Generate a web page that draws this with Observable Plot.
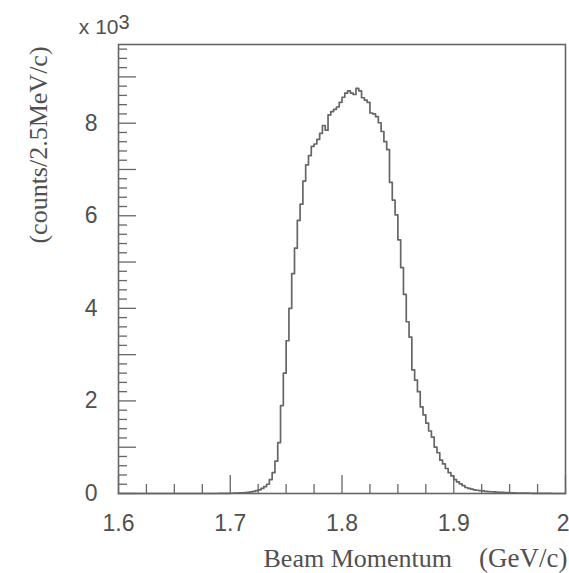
<!DOCTYPE html>
<html><head><meta charset="utf-8">
<script src="https://cdn.jsdelivr.net/npm/d3@7"></script>
<script src="https://cdn.jsdelivr.net/npm/@observablehq/plot@0.6"></script>
<style>body{margin:0;background:#fff}</style>
</head><body><div id="chart"></div>
<script>
// Histogram: beam momentum, 2.5 MeV/c bins from 1.6 to 2.0 GeV/c
const binStart = 1.6;
const binWidth = 0.0025;
const counts = [
  0,0,0,0,0,0,0,0,0,0,
  0,0,0,0,0,0,0,0,0,0,
  0,0,0,0,0,0,0,0,0,0,
  0,0,0,0,0,0,1,2,3,4,
  5,8,10,12,15,20,25,35,45,60,
  80,110,150,200,300,450,700,1100,1900,2600,
  3300,4000,4750,5300,5900,6250,6750,7100,7300,7500,
  7550,7650,7780,7950,7850,8180,8250,8300,8350,8450,
  8560,8650,8700,8650,8620,8750,8700,8550,8500,8450,
  8220,8200,8140,8010,7820,7600,7430,6720,6340,6020,
  5480,4880,4300,3710,3380,2670,2450,2200,1870,1700,
  1520,1350,1220,1000,880,720,640,540,450,380,
  300,250,210,170,130,110,95,80,70,60,
  55,48,42,38,34,30,27,24,20,18,
  15,13,11,9,8,7,6,5,4,3,
  2,2,1,1,1,0,0,0,0,0
];
const xDomain = [1.6, 2.0];
const yDomain = [0, 9700];
const xMajorTicks = [1.6, 1.7, 1.8, 1.9, 2.0];
const xTickLabels = ["1.6", "1.7", "1.8", "1.9", "2"];
const xMinorTicks = [1.625, 1.65, 1.675, 1.725, 1.75, 1.775, 1.825, 1.85, 1.875, 1.925, 1.95, 1.975];
const yMajorTicks = [0, 1000, 2000, 3000, 4000, 5000, 6000, 7000, 8000, 9000];
const yMinorTicks = d3.range(200, 9700, 200).filter(v => v % 1000 !== 0);
const yLabelTicks = [0, 2000, 4000, 6000, 8000];
const yTickLabels = ["0", "2", "4", "6", "8"];
const xTitleMain = "Beam Momentum";
const xTitleUnit = "(GeV/c)";
const yTitle = "(counts/2.5MeV/c)";
const scaleText = "x 10";
const scaleExp = "3";

const lineData = counts.map((c, i) => ({x: binStart + i * binWidth, y: c}));
lineData.push({x: binStart + counts.length * binWidth, y: counts[counts.length - 1]});

const ink = "#666";
const textInk = "#505050";
const sans = "Liberation Sans, Arial, sans-serif";
const serif = "Liberation Serif, Times New Roman, serif";
const fmtX = d => xTickLabels[xMajorTicks.indexOf(d)];

const chart = Plot.plot({
  width: 569,
  height: 573,
  marginTop: 44,
  marginRight: 4,
  marginBottom: 80,
  marginLeft: 118,
  x: {domain: xDomain, axis: null},
  y: {domain: yDomain, axis: null},
  style: {background: "#fff", fontFamily: sans},
  marks: [
    Plot.axisX(xMajorTicks, {tickSize: -18, tickFormat: () => "", stroke: ink, strokeWidth: 1.3, label: null}),
    Plot.axisX(xMinorTicks, {tickSize: -9, tickFormat: () => "", stroke: ink, strokeWidth: 1.3, label: null}),
    Plot.axisY(yMajorTicks, {tickSize: -18, tickFormat: () => "", stroke: ink, strokeWidth: 1.3, label: null}),
    Plot.axisY(yMinorTicks, {tickSize: -9, tickFormat: () => "", stroke: ink, strokeWidth: 1.3, label: null}),
    Plot.axisX(xMajorTicks.slice(0, 4), {tickSize: 0, tickPadding: 21, tickFormat: fmtX, fontSize: 23, fontFamily: sans, fill: textInk, label: null}),
    Plot.axisX(xMajorTicks.slice(4), {tickSize: 0, tickPadding: 21, tickFormat: fmtX, textAnchor: "end", dx: 4, fontSize: 23, fontFamily: sans, fill: textInk, label: null}),
    Plot.axisY(yLabelTicks, {tickSize: 0, tickPadding: 21, tickFormat: d => yTickLabels[yLabelTicks.indexOf(d)], fontSize: 23, fontFamily: sans, fill: textInk, label: null}),
    Plot.lineY(lineData, {x: "x", y: "y", curve: "step-after", stroke: ink, strokeWidth: 1.7}),
    Plot.frame({stroke: ink, strokeWidth: 1.6}),
    Plot.text([scaleText], {frameAnchor: "top-left", textAnchor: "end", lineAnchor: "bottom", dx: 0, dy: -11, fontSize: 21, fontFamily: sans, fill: textInk}),
    Plot.text([scaleExp], {frameAnchor: "top-left", textAnchor: "start", lineAnchor: "bottom", dx: 0, dy: -16, fontSize: 20, fontFamily: sans, fill: textInk}),
    Plot.text([yTitle], {frameAnchor: "left", rotate: -90, textAnchor: "middle", lineAnchor: "bottom", dx: -72, dy: -124, fontSize: 26, fontFamily: serif, fill: textInk}),
    Plot.text([xTitleMain], {frameAnchor: "bottom-left", textAnchor: "start", lineAnchor: "bottom", dx: 145, dy: 73, fontSize: 26, fontFamily: serif, fill: textInk}),
    Plot.text([xTitleUnit], {frameAnchor: "bottom-right", textAnchor: "end", lineAnchor: "bottom", dx: 2, dy: 73, fontSize: 27, fontFamily: serif, fill: textInk})
  ]
});
document.getElementById("chart").appendChild(chart);
</script>
</body></html>
